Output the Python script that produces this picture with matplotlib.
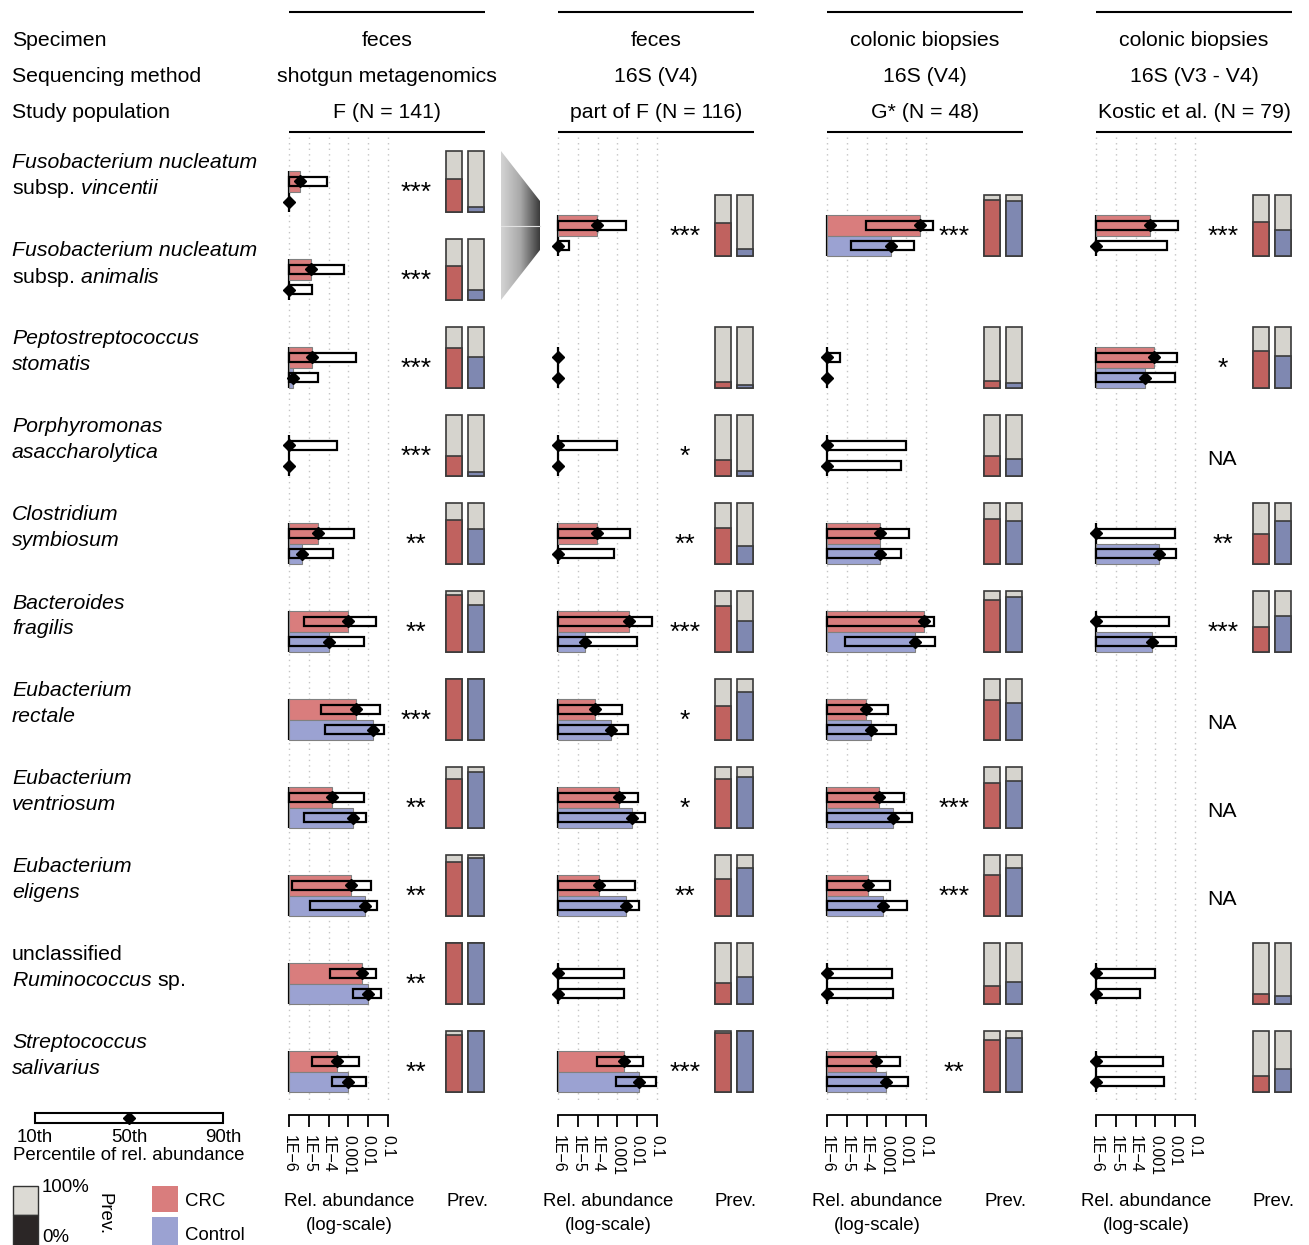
import matplotlib
matplotlib.use('Agg')
import matplotlib.pyplot as plt
import numpy as np
import matplotlib.transforms as mtrans
from matplotlib.patches import Rectangle, Polygon
from matplotlib.colors import LinearSegmentedColormap
from matplotlib.ticker import NullLocator

plt.rcParams['font.family'] = ['Liberation Sans', 'DejaVu Sans']
plt.rcParams['mathtext.fontset'] = 'custom'
plt.rcParams['mathtext.it'] = 'Liberation Sans:italic'
plt.rcParams['mathtext.rm'] = 'Liberation Sans'

# ---------------- data ----------------
specimen = ['feces', 'feces', 'colonic biopsies', 'colonic biopsies']
seq_method = ['shotgun metagenomics', '16S (V4)', '16S (V4)', '16S (V3 - V4)']
population = ['F (N = 141)', 'part of F (N = 116)', 'G* (N = 48)', 'Kostic et al. (N = 79)']
header_rows = ['Specimen', 'Sequencing method', 'Study population']

species_line1 = ['Fusobacterium nucleatum', 'Fusobacterium nucleatum', 'Peptostreptococcus',
                 'Porphyromonas', 'Clostridium', 'Bacteroides', 'Eubacterium', 'Eubacterium',
                 'Eubacterium', 'unclassified', 'Streptococcus']
species_line2 = [r'subsp. $\mathit{vincentii}$', r'subsp. $\mathit{animalis}$', 'stomatis',
                 'asaccharolytica', 'symbiosum', 'fragilis', 'rectale', 'ventriosum',
                 'eligens', r'$\mathit{Ruminococcus}$ sp.', 'salivarius']
line1_italic = [True] * 9 + [False, True]
line2_italic = [False, False, True, True, True, True, True, True, True, False, True]

row_pos = [list(range(11)),
           [0.5, 2, 3, 4, 5, 6, 7, 8, 9, 10],
           [0.5, 2, 3, 4, 5, 6, 7, 8, 9, 10],
           [0.5, 2, 3, 4, 5, 6, 7, 8, 9, 10]]

# log10 relative abundance percentiles (10th, 50th, 90th)
crc_p10 = [
    [-6, -6, -6, -6, -6, -5.26, -4.38, -6, -5.87, -3.95, -4.86],
    [-6, -6, -6, -6, -6, -6, -6, -6, -6, -4.01],
    [-4.02, -6, -6, -6, -6, -6, -6, -6, -6, -6],
    [-6, -6, None, -6, -6, None, None, None, -6, -6],
]
crc_p50 = [
    [-5.44, -4.89, -4.82, -6, -4.52, -3.04, -2.60, -3.85, -2.87, -2.30, -3.59],
    [-4.01, -6, -6, -4.01, -2.41, -4.11, -2.90, -3.91, -6, -2.68],
    [-1.30, -6, -6, -3.34, -1.10, -4.03, -3.37, -3.93, -6, -3.51],
    [-3.26, -3.06, None, -6, -6, None, None, None, -6, -6],
]
crc_p90 = [
    [-4.08, -3.22, -2.62, -3.58, -2.72, -1.59, -1.42, -2.23, -1.88, -1.61, -2.48],
    [-2.59, -6, -3.01, -2.36, -1.25, -2.78, -1.98, -2.09, -2.65, -1.71],
    [-0.66, -5.32, -2.01, -1.84, -0.60, -2.92, -2.13, -2.80, -2.72, -2.33],
    [-1.84, -1.91, None, -1.99, -2.31, None, None, None, -3.02, -2.60],
]
ctl_p10 = [
    [-6, -6, -6, -6, -6, -6, -4.16, -5.23, -4.96, -2.77, -3.85],
    [-6, -6, -6, -6, -6, -6, -6, -6, -6, -3.07],
    [-4.78, -6, -6, -6, -5.07, -6, -6, -6, -6, -6],
    [-6, -6, None, -6, -6, None, None, None, -6, -6],
]
ctl_p50 = [
    [-6, -6, -5.80, -6, -5.34, -3.96, -1.76, -2.75, -2.14, -2.01, -3.04],
    [-6, -6, -6, -6, -4.64, -3.32, -2.25, -2.58, -6, -1.91],
    [-2.76, -6, -6, -3.32, -1.56, -3.78, -2.67, -3.15, -6, -3.00],
    [-6, -3.55, None, -2.82, -3.15, None, None, None, -6, -6],
]
ctl_p90 = [
    [-6, -4.84, -4.52, -6, -3.79, -2.21, -1.22, -2.09, -1.57, -1.34, -2.09],
    [-5.46, -6, -6, -3.19, -1.99, -2.48, -1.59, -1.93, -2.68, -1.07],
    [-1.61, -6, -2.25, -2.28, -0.53, -2.53, -1.69, -1.98, -2.67, -1.89],
    [-2.42, -2.01, None, -1.94, -1.98, None, None, None, -3.76, -2.57],
]
# prevalence (fraction of samples)
prev_crc = [
    [0.54, 0.56, 0.66, 0.33, 0.72, 0.93, 1.0, 0.80, 0.89, 1.0, 0.94],
    [0.54, 0.10, 0.27, 0.59, 0.76, 0.56, 0.81, 0.61, 0.34, 0.96],
    [0.92, 0.11, 0.33, 0.73, 0.85, 0.65, 0.73, 0.67, 0.30, 0.86],
    [0.55, 0.60, None, 0.49, 0.41, None, None, None, 0.16, 0.27],
]
prev_ctl = [
    [0.08, 0.17, 0.50, 0.07, 0.58, 0.77, 1.0, 0.92, 0.95, 1.0, 1.0],
    [0.11, 0.05, 0.08, 0.29, 0.50, 0.78, 0.84, 0.78, 0.44, 1.0],
    [0.90, 0.08, 0.28, 0.71, 0.90, 0.61, 0.77, 0.78, 0.36, 0.88],
    [0.43, 0.52, None, 0.71, 0.59, None, None, None, 0.13, 0.37],
]
signif = [
    ['***', '***', '***', '***', '**', '**', '***', '**', '**', '**', '**'],
    ['***', '', '*', '**', '***', '*', '*', '**', '', '***'],
    ['***', '', '', '', '', '', '***', '***', '', '**'],
    ['***', '*', 'NA', '**', '***', 'NA', 'NA', 'NA', '', ''],
]
tick_values = [1e-6, 1e-5, 1e-4, 1e-3, 1e-2, 1e-1]
tick_labels = ['1E\u22126', '1E\u22125', '1E\u22124', '0.001', '0.01', '0.1']
legend_percentiles = [10, 50, 90]
legend_pct_labels = ['10th', '50th', '90th']

# ---------------- style / layout ----------------
W, H = 1309, 1245
C_CRC = '#d97d7d'
C_CTL = '#9ba2d2'
C_CRC_D = '#c0625f'
C_CTL_D = '#7f88b1'
C_GRAY = '#d6d4ce'
FS_BIG = 15.3
FS_SMALL = 13.4

X0 = [289, 558, 827, 1096]
AB_W = 99
AX_TOP, AX_BOTTOM = 137, 1115
GRID_BOTTOM = 1100
ROW0, ROW_STEP = 192, 88
PREV_OFF, PREV_W = 154, 44


def fx(px):
    return px / W


def fy(py):
    return 1 - py / H


def row_y(pos):
    return ROW0 + ROW_STEP * pos


fig = plt.figure(figsize=(W / 100, H / 100), dpi=100)

# overlay axes in pixel coordinates (decorations)
ov = fig.add_axes([0, 0, 1, 1], zorder=-1)
ov.set_xlim(0, W)
ov.set_ylim(H, 0)
ov.axis('off')

# header texts
for k, lab in enumerate(header_rows):
    fig.text(fx(12), fy(41 + 35.5 * k), lab, ha='left', va='center', fontsize=FS_BIG)
for p in range(4):
    cx = X0[p] + 98
    for k, lab in enumerate([specimen[p], seq_method[p], population[p]]):
        fig.text(fx(cx), fy(41 + 35.5 * k), lab, ha='center', va='center', fontsize=FS_BIG)
    for yy in (12, 132):
        ov.plot([X0[p], X0[p] + 196], [yy, yy], color='black', lw=1.5, solid_capstyle='butt')

# species labels
for i in range(11):
    fig.text(fx(12), fy(163 + ROW_STEP * i), species_line1[i], ha='left', va='center',
             fontsize=FS_BIG, style='italic' if line1_italic[i] else 'normal')
    fig.text(fx(12), fy(189 + ROW_STEP * i), species_line2[i], ha='left', va='center',
             fontsize=FS_BIG, style='italic' if line2_italic[i] else 'normal')

# panels
for p in range(4):
    x0 = X0[p]
    ax = fig.add_axes([fx(x0), fy(AX_BOTTOM), AB_W / W, (AX_BOTTOM - AX_TOP) / H])
    ax.set_xscale('log')
    ax.set_xlim(tick_values[0], tick_values[-1])
    ax.set_ylim(AX_BOTTOM, AX_TOP)
    ax.patch.set_alpha(0)
    ax.vlines(tick_values, AX_TOP, GRID_BOTTOM, colors='#c4c4c4', linestyles=(0, (1, 3)),
              lw=1.0, zorder=0, clip_on=False)
    base = tick_values[0]
    for j, pos in enumerate(row_pos[p]):
        if crc_p50[p][j] is None:
            continue
        y = row_y(pos)
        ax.vlines(base, y - 21, y + 20, colors='black', lw=1.6, zorder=1, clip_on=False)
        groups = [(y - 10.5, 21, C_CRC, crc_p10[p][j], crc_p50[p][j], crc_p90[p][j]),
                  (y + 10, 20, C_CTL, ctl_p10[p][j], ctl_p50[p][j], ctl_p90[p][j])]
        for yc, h, col, q10, q50, q90 in groups:
            med = 10 ** q50
            # white fill of the 10th-90th percentile box (under the median bar)
            ax.barh(yc, 10 ** q90 - 10 ** q10, left=10 ** q10, height=9, color='white',
                    edgecolor='none', zorder=1.5, clip_on=False)
            if med > base * 1.0001:
                ax.barh(yc, med - base, left=base, height=h, color=col, edgecolor='#808080',
                        lw=0.8, zorder=2, clip_on=False)
            # outline of the percentile box
            ax.barh(yc, 10 ** q90 - 10 ** q10, left=10 ** q10, height=9, color='none',
                    edgecolor='black', lw=1.6, zorder=3, clip_on=False)
            ax.plot([med], [yc], marker='D', ms=6, color='black', zorder=4, clip_on=False)
    ax.set_xticks(tick_values)
    ax.set_xticklabels(tick_labels, rotation=-90, fontsize=11.5)
    ax.xaxis.set_minor_locator(NullLocator())
    ax.tick_params(axis='x', direction='out', length=8.5, width=1.3, pad=6, colors='black')
    ax.tick_params(axis='y', left=False, labelleft=False)
    for s in ['top', 'left', 'right']:
        ax.spines[s].set_visible(False)
    ax.spines['bottom'].set_linewidth(1.3)

    # prevalence axes
    axp = fig.add_axes([fx(x0 + PREV_OFF), fy(AX_BOTTOM), PREV_W / W, (AX_BOTTOM - AX_TOP) / H])
    axp.set_xlim(-0.5, 1.5)
    axp.set_ylim(AX_BOTTOM, AX_TOP)
    axp.axis('off')
    trans = mtrans.blended_transform_factory(fig.transFigure, axp.transData)
    for j, pos in enumerate(row_pos[p]):
        y = row_y(pos)
        s = signif[p][j]
        if s == 'NA':
            axp.text(fx(x0 + 126), y + 4, 'NA', transform=trans, ha='center', va='center',
                     fontsize=FS_BIG)
        elif s:
            axp.text(fx(x0 + 127), y + 1, s, transform=trans, ha='center', va='center',
                     fontsize=19)
        if prev_crc[p][j] is None:
            continue
        for k, (pv, col) in enumerate([(prev_crc[p][j], C_CRC_D), (prev_ctl[p][j], C_CTL_D)]):
            axp.bar(k, 61, bottom=y - 41, width=0.727, color=C_GRAY, edgecolor='#3a3a3a',
                    lw=1.2, clip_on=False)
            axp.bar(k, 61 * pv, bottom=y + 20 - 61 * pv, width=0.727, color=col,
                    edgecolor='#3a3a3a', lw=1.2, clip_on=False)

    # bottom labels
    lab_cx = x0 + (60 if p == 0 else 50)
    fig.text(fx(lab_cx), fy(1202), 'Rel. abundance', ha='center', va='center', fontsize=FS_SMALL)
    fig.text(fx(lab_cx), fy(1225), '(log-scale)', ha='center', va='center', fontsize=FS_SMALL)
    fig.text(fx(x0 + 178), fy(1202), 'Prev.', ha='center', va='center', fontsize=FS_SMALL)

# funnel between panel 1 and 2
yc_f = row_y(0.5) - 10.5
poly = Polygon([[501, yc_f - 74.5], [540, yc_f - 24.5], [540, yc_f + 24.5], [501, yc_f + 74.5]],
               closed=True, facecolor='none', edgecolor='none', transform=ov.transData)
ov.add_patch(poly)
grad = np.linspace(0, 1, 256).reshape(1, -1)
cmap_f = LinearSegmentedColormap.from_list('f', ['#d4d4d4', '#a8a8a8', '#3a3a3a'])
im = ov.imshow(grad, extent=[501, 540, yc_f + 75, yc_f - 75], cmap=cmap_f, aspect='auto',
               interpolation='bilinear')
im.set_clip_path(poly)
ov.set_xlim(0, W)
ov.set_ylim(H, 0)
ov.plot([501, 540], [yc_f, yc_f], color='#e2e2e2', lw=0.8)

# percentile legend
axl = fig.add_axes([fx(35), fy(1130), 188 / W, 25 / H])
axl.set_xlim(legend_percentiles[0], legend_percentiles[-1])
axl.set_ylim(0, 1)
axl.axis('off')
axl.barh(0.5, legend_percentiles[-1] - legend_percentiles[0], left=legend_percentiles[0],
         height=0.4, color='white', edgecolor='black', lw=1.5, clip_on=False)
axl.plot([legend_percentiles[1]], [0.5], marker='D', ms=6, color='black', clip_on=False)
for v, t in zip(legend_percentiles, legend_pct_labels):
    axl.text(v, -0.28, t, ha='center', va='center', fontsize=FS_SMALL, clip_on=False)
fig.text(fx(13), fy(1156), 'Percentile of rel. abundance', ha='left', va='center', fontsize=FS_SMALL)

# prevalence legend
ov.add_patch(Rectangle((13, 1186), 25, 29, facecolor='#dcdad4', edgecolor='#333333', lw=1.0))
ov.add_patch(Rectangle((13, 1215), 25, 31, facecolor='#2b2626', edgecolor='#333333', lw=1.0))
fig.text(fx(42), fy(1187), '100%', ha='left', va='center', fontsize=FS_SMALL)
fig.text(fx(42), fy(1238), '0%', ha='left', va='center', fontsize=FS_SMALL)
fig.text(fx(104), fy(1214), 'Prev.', ha='center', va='center', fontsize=FS_SMALL, rotation=-90)

# group legend
ov.add_patch(Rectangle((152, 1186), 26, 26, facecolor=C_CRC, edgecolor='none'))
ov.add_patch(Rectangle((152, 1217), 26, 28, facecolor=C_CTL, edgecolor='none'))
fig.text(fx(185), fy(1202), 'CRC', ha='left', va='center', fontsize=FS_SMALL)
fig.text(fx(185), fy(1235), 'Control', ha='left', va='center', fontsize=FS_SMALL)

fig.savefig('out.png', dpi=100)
